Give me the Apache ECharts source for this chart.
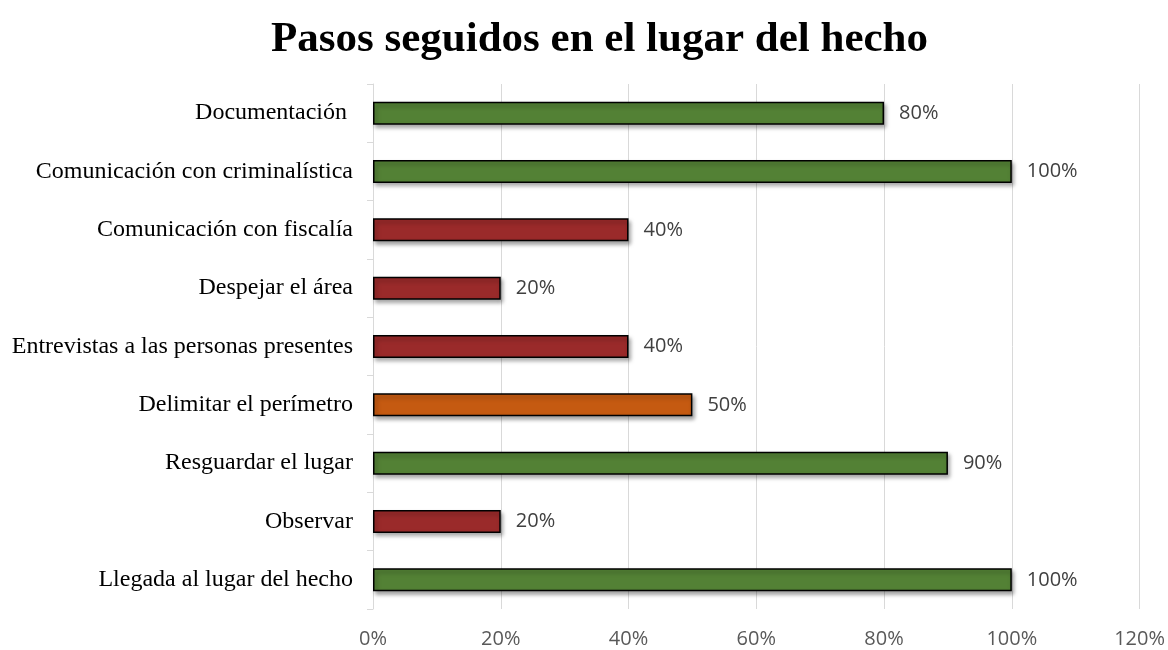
<!DOCTYPE html>
<html>
<head>
<meta charset="utf-8">
<script src="https://cdn.jsdelivr.net/npm/echarts@6/dist/echarts.min.js"></script>
<style>
	html, body { margin: 0; padding: 0; background: #fff; }
	#chart { width: 1168px; height: 650px; }
</style>
</head>
<body>
<div id="chart"></div>
<script>
	// categories from bottom to top (category axis starts at the bottom)
	var categories = [
		'Llegada al lugar del hecho',
		'Observar',
		'Resguardar el lugar',
		'Delimitar el perímetro',
		'Entrevistas a las personas presentes',
		'Despejar el área',
		'Comunicación con fiscalía',
		'Comunicación con criminalística',
		'Documentación '
	];
	var values = [100, 20, 90, 50, 40, 20, 40, 100, 80];
	var xTicks = [0, 20, 40, 60, 80, 100, 120];

	function barColor(v) {
		if (v >= 80) return '#538135';
		if (v >= 50) return '#C55A11';
		return '#9A2A2A';
	}

	var myChart = echarts.init(document.getElementById('chart'));
	myChart.setOption({
		animation: false,
		title: {
			text: 'Pasos seguidos en el lugar del hecho',
			left: 266,
			top: 13,
			textStyle: {
				fontFamily: 'Liberation Serif',
				fontWeight: 'bold',
				fontSize: 43,
				color: '#000'
			}
		},
		grid: {
			left: 373,
			right: 28,
			top: 84,
			bottom: 41,
			containLabel: false
		},
		xAxis: {
			type: 'value',
			min: xTicks[0],
			max: xTicks[xTicks.length - 1],
			interval: 20,
			axisLine: { show: false },
			axisTick: { show: false },
			axisLabel: {
				formatter: '{value}%',
				color: '#595959',
				fontFamily: 'Open Sans',
				fontSize: 20,
				margin: 20
			},
			splitLine: { show: true, lineStyle: { color: '#d9d9d9', width: 1 } }
		},
		yAxis: {
			type: 'category',
			data: categories,
			axisLine: { show: true, lineStyle: { color: '#d9d9d9' } },
			axisTick: { show: true, length: 6, lineStyle: { color: '#d9d9d9' } },
			axisLabel: {
				color: '#000',
				fontFamily: 'Liberation Serif',
				fontSize: 24,
				margin: 20
			}
		},
		series: [{
			type: 'bar',
			barWidth: 23,
			data: values.map(function (v) {
				return {
					value: v,
					itemStyle: {
						color: barColor(v),
						borderColor: '#000',
						borderWidth: 1.5,
						shadowColor: 'rgba(0,0,0,0.35)',
						shadowBlur: 4,
						shadowOffsetX: 2,
						shadowOffsetY: 3
					}
				};
			}),
			label: {
				show: true,
				position: 'right',
				distance: 15,
				formatter: '{c}%',
				color: '#404040',
				fontFamily: 'Open Sans',
				fontSize: 20
			}
		}]
	});
</script>
</body>
</html>
